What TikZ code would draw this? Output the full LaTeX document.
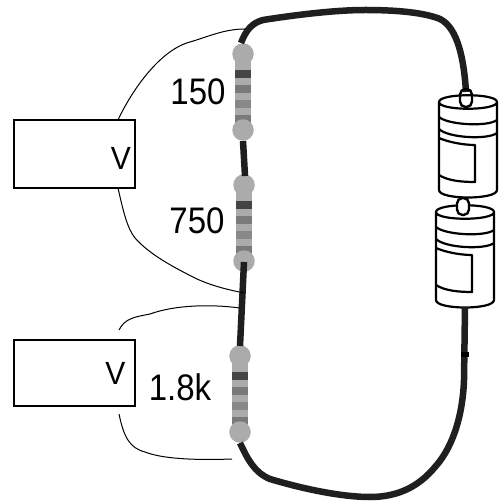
\documentclass[tikz,border=0pt]{standalone}
\usepackage{fontspec}
\setmainfont{Liberation Sans}
\definecolor{resbody}{gray}{0.67}
\definecolor{banddark}{gray}{0.27}
\definecolor{bandmid}{gray}{0.48}
\definecolor{wirecol}{gray}{0.12}
\tikzset{
  wire/.style={draw=wirecol,line width=6.5pt},
  probe/.style={draw=black,line width=1pt},
  meter/.style={draw=black,line width=1.7pt,minimum width=121pt,inner sep=0pt,anchor=north west},
  lbl/.style={font=\fontsize{33}{33}\selectfont,inner sep=0pt},
  vlbl/.style={font=\fontsize{30}{30}\selectfont,inner sep=0pt},
  lead/.style={circle,fill=resbody,minimum size=21.5pt,inner sep=0pt},
  cell/.style={draw=black,line width=2.2pt,fill=white,line join=round},
  capsule/.style={draw=black,line width=2.4pt,rounded corners=5.5pt}
}
\newcommand{\resistor}[3]{% name, x, y of top lead
  \begin{scope}[shift={(#2,#3)}]
    \fill[resbody] (-8,0) rectangle (8,76);
    \fill[banddark] (-8,16) rectangle (8,24);
    \fill[bandmid] (-8,31) rectangle (8,39);
    \fill[bandmid!90!white] (-8,46) rectangle (8,54);
    \fill[bandmid] (-8,61) rectangle (8,69);
    \node[lead] (#1t) at (0,0) {};
    \node[lead] (#1b) at (0,76) {};
  \end{scope}}
\newcommand{\battery}[2]{% x,y of centre of top ellipse
  \begin{scope}[shift={(#1,#2)}]
    \path[cell] (-29,0) -- (-29,88) .. controls (-29,98) and (29,98) .. (29,88) -- (29,0)
      .. controls (29,-9) and (-29,-9) .. (-29,0) .. controls (-29,9) and (29,9) .. (29,0);
    \draw[cell,fill=none] (-29,15) .. controls (-20,23) and (20,25) .. (29,18);
    \draw[cell,fill=none] (-29,27) .. controls (-20,36) and (20,38) .. (29,31);
    \draw[cell,fill=none] (-29,36) .. controls (-20,40) and (-5,43) .. (7,43) -- (7,80) .. controls (-5,80) and (-20,79) .. (-29,73);
  \end{scope}}
\begin{document}
\begin{tikzpicture}[x=1pt,y=-1pt]
\useasboundingbox (0,0) rectangle (501,502);
\fill[white] (0,0) rectangle (501,502);
% meters
\node[meter,minimum height=68pt] (m1) at (13,119) {};
\node[meter,minimum height=66pt] (m2) at (13,339) {};
\node[vlbl] (v1) at (121,158) {\scalebox{1}[1.07]{V}};
\node[vlbl] (v2) at (115.5,373.5) {\scalebox{1}[1.07]{V}};
% labels
\node[lbl] (l1) at (198,92) {\scalebox{1}[1.12]{150}};
\node[lbl] (l2) at (197,221) {\scalebox{1}[1.12]{750}};
\node[lbl] (l3) at (180,387) {\scalebox{1}[1.12]{1.8k}};
% resistors
\resistor{ra}{243}{54}
\resistor{rb}{244}{185}
\resistor{rc}{240}{356}
% junctions
\coordinate (w1) at (241,43);
\coordinate (w2) at (243,141);
\coordinate (w3) at (245,176);
\coordinate (w4) at (244,262);
\coordinate (w5) at (240,346);
\coordinate (w6) at (240,443);
\coordinate (b1) at (466,92);
\coordinate (b2) at (465,307);
\coordinate (t1) at (245,29);
\coordinate (t2) at (244,293);
\coordinate (t3) at (240,308);
\coordinate (t4) at (232,459);
% batteries
\battery{468}{102}
\battery{465}{212}
% wires
\draw[wire] (w1) .. controls (246,30) and (252,23) .. (263,20)
   .. controls (295,15) and (335,10) .. (365,10) .. controls (400,10) and (425,13) .. (440,19)
   .. controls (458,28) and (464,60) .. (b1);
\draw[wire] (w2) -- (w3);
\draw[wire] (w4) -- (w5);
\draw[wire] (w6) .. controls (248,460) and (255,473) .. (270,479)
   .. controls (300,488) and (340,497) .. (370,497) .. controls (400,497) and (420,485) .. (435,467)
   .. controls (455,445) and (463,410) .. (464,380) -- (b2);
\fill[black] (461,352) rectangle (469,357);
\draw[capsule] (460,89) rectangle (472,107);
\draw[capsule,fill=white] (457,198) rectangle (469,215);
% probes
\draw[probe] (118,120) .. controls (132,90) and (160,50) .. (190,42) .. controls (210,36) and (225,29) .. (t1);
\draw[probe] (118,188) .. controls (123,210) and (127,228) .. (135,238) .. controls (150,255) and (175,268) .. (197,279) .. controls (215,287) and (230,290) .. (t2);
\draw[probe] (119,330) .. controls (125,318) and (135,317) .. (150,314) .. controls (175,305) and (210,304) .. (t3);
\draw[probe] (119,414) .. controls (124,438) and (130,448) .. (145,452) .. controls (165,460) and (205,460) .. (t4);
\end{tikzpicture}
\end{document}
